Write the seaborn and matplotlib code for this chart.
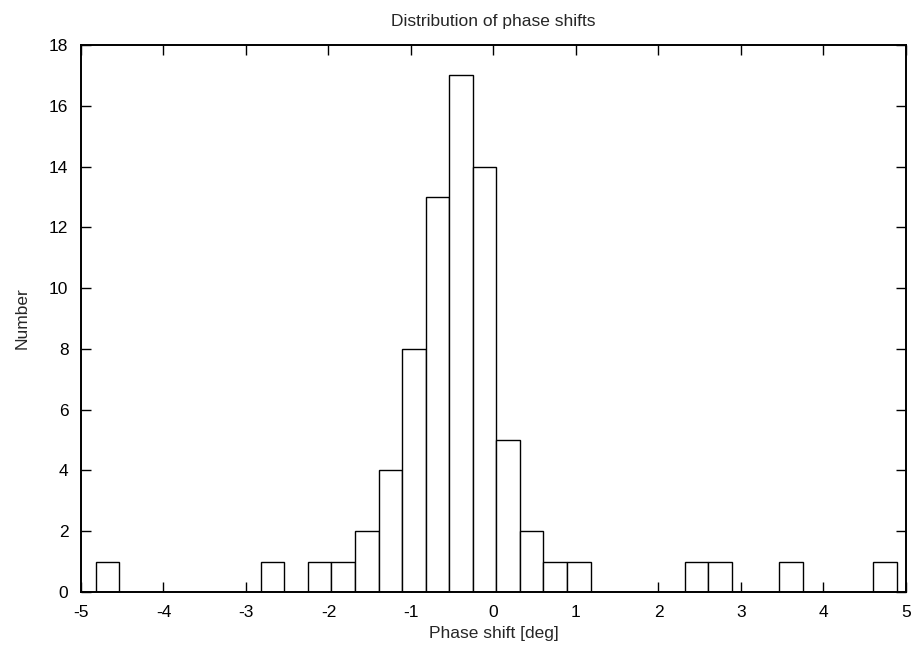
import numpy as np
import pandas as pd
import matplotlib
matplotlib.use("Agg")
import matplotlib.pyplot as plt
import seaborn as sns

# histogram definition
bin_min = -4.82
bin_max = 4.89
n_bins = 34
counts = [1, 0, 0, 0, 0, 0, 0, 1, 0, 1, 1, 2, 4, 8, 13, 17, 14, 5,
          2, 1, 1, 0, 0, 0, 0, 1, 1, 0, 0, 1, 0, 0, 0, 1]

x_ticks = [-5, -4, -3, -2, -1, 0, 1, 2, 3, 4, 5]
y_ticks = [0, 2, 4, 6, 8, 10, 12, 14, 16, 18]

title = "Distribution of phase shifts"
x_label = "Phase shift [deg]"
y_label = "Number"

edges = np.linspace(bin_min, bin_max, n_bins + 1)
df = pd.DataFrame({"shift": (edges[:-1] + edges[1:]) / 2, "n": counts})

sns.set_style("ticks")
plt.rcParams['font.family'] = ['Liberation Sans', 'DejaVu Sans']
plt.rcParams['font.size'] = 12.5
plt.rcParams['axes.unicode_minus'] = False  # plain hyphen like the original

fig = plt.figure(figsize=(9.12, 6.51), dpi=100)
ax = fig.add_axes([0.0888, 0.0906, 0.9046, 0.8403])

sns.histplot(data=df, x="shift", weights="n", bins=list(edges), ax=ax,
             color="white", edgecolor="black", linewidth=1.0, alpha=1)

ax.set_xlim(-5, 5)
ax.set_ylim(0, 18)
ax.set_xticks(x_ticks)
ax.set_yticks(y_ticks)
ax.tick_params(direction="in", length=7, width=1.0, top=True, right=True,
               labelsize=12.5, colors="black")
ax.tick_params(axis="x", pad=9)
ax.tick_params(axis="y", pad=9)
for s in ax.spines.values():
    s.set_linewidth(1.4)
    s.set_color("black")

ax.set_title(title, fontsize=12.5, pad=14)
ax.set_xlabel(x_label, fontsize=12.5, labelpad=5)
ax.set_ylabel(y_label, fontsize=12.5, labelpad=14)

fig.savefig("out.png", dpi=100)
